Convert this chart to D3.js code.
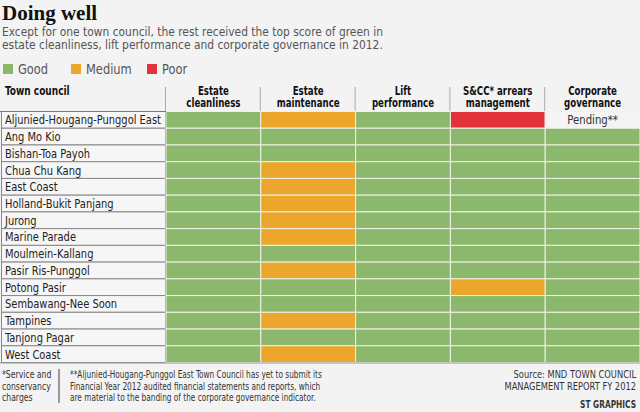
<html>
<head>
	<title>Doing well</title>
	<meta charset="utf-8">
	<script src="https://cdn.jsdelivr.net/npm/d3@7"></script>
	<style>
		body { margin: 0; background: #f3f3f3; }
		text { font-family: "Liberation Sans Narrow", "DejaVu Sans Condensed", Roboto, sans-serif; }
	</style>
</head>
<body>
	<script type="text/javascript">
		var width = 640
		var height = 412

		// data
		var councils = ["Aljunied-Hougang-Punggol East", "Ang Mo Kio", "Bishan-Toa Payoh", "Chua Chu Kang",
			"East Coast", "Holland-Bukit Panjang", "Jurong", "Marine Parade", "Moulmein-Kallang",
			"Pasir Ris-Punggol", "Potong Pasir", "Sembawang-Nee Soon", "Tampines", "Tanjong Pagar", "West Coast"]
		var indicators = ["Estate cleanliness", "Estate maintenance", "Lift performance", "S&CC* arrears management", "Corporate governance"]
		var headerLines = [["Estate", "cleanliness"], ["Estate", "maintenance"], ["Lift", "performance"], ["S&CC* arrears", "management"], ["Corporate", "governance"]]
		// G = good, M = medium, P = poor, N = pending
		var estateCleanliness  = ["G","G","G","G","G","G","G","G","G","G","G","G","G","G","G"]
		var estateMaintenance  = ["M","G","G","M","M","M","M","M","G","M","G","G","M","G","M"]
		var liftPerformance    = ["G","G","G","G","G","G","G","G","G","G","G","G","G","G","G"]
		var arrearsManagement  = ["P","G","G","G","G","G","G","G","G","G","M","G","G","G","G"]
		var corporateGovernance= ["N","G","G","G","G","G","G","G","G","G","G","G","G","G","G"]
		var ratings = [estateCleanliness, estateMaintenance, liftPerformance, arrearsManagement, corporateGovernance]
		var legendKeys = ["G", "M", "P"]
		var legendLabels = ["Good", "Medium", "Poor"]

		var svg = d3.select("body").append("svg")
		  .attr("width", width)
		  .attr("height", height)

		var color = d3.scaleOrdinal().domain(["G", "M", "P", "N"]).range(["#8cb86e", "#eca62b", "#e2333b", "#f4f4f4"])

		// the original uses a condensed face, so squeeze text horizontally
		function squeeze(sel, k) {
			sel.each(function() {
				var w = this.getComputedTextLength()
				d3.select(this).attr("textLength", w * k).attr("lengthAdjust", "spacingAndGlyphs")
			})
		}

		// title
		svg.append("text").attr("x", 2).attr("y", 20)
			.style("font-family", "'Liberation Serif', serif").style("font-weight", "bold")
			.style("font-size", "21px").attr("fill", "#111").text("Doing well")
		var sub = ["Except for one town council, the rest received the top score of green in",
			"estate cleanliness, lift performance and corporate governance in 2012."]
		svg.selectAll(".sub").data(sub).enter().append("text")
			.attr("x", 2).attr("y", (d, i) => 35.5 + i * 13.5)
			.style("font-size", "13px").attr("fill", "#555").text(d => d)
			.call(squeeze, 0.914)

		// legend
		var lx = d3.scaleOrdinal().domain(legendKeys).range([3, 71, 147])
		var lg = svg.selectAll(".leg").data(legendKeys).enter().append("g")
			.attr("transform", d => "translate(" + lx(d) + ",64)")
		lg.append("rect").attr("width", 10).attr("height", 10).attr("fill", d => color(d))
		lg.append("text").attr("x", 15).attr("y", 10).style("font-size", "13.5px").attr("fill", "#555")
			.text((d, i) => legendLabels[i]).call(squeeze, 0.94)

		// grid scales
		var y = d3.scaleBand().domain(councils).range([111.5, 362.5])
		var x = d3.scaleBand().domain(indicators).range([166, 640])

		// header
		svg.append("text").attr("x", 5).attr("y", 94.5).style("font-weight", "bold")
			.style("font-size", "12.5px").attr("fill", "#111").text("Town council").call(squeeze, 0.8)
		svg.selectAll(".hsep").data(indicators).enter().append("line")
			.attr("x1", d => x(d) - 0.5).attr("x2", d => x(d) - 0.5)
			.attr("y1", 87).attr("y2", 111).attr("stroke", "#aaa")
		var hdr = svg.selectAll(".hdr").data(indicators).enter().append("text")
			.attr("x", d => x(d) + x.bandwidth() / 2).attr("text-anchor", "middle")
			.style("font-weight", "bold").style("font-size", "12px").attr("fill", "#111")
		hdr.selectAll("tspan").data((d, i) => headerLines[i]).enter().append("tspan")
			.attr("x", function() { return this.parentNode.getAttribute("x") })
			.attr("y", (d, i) => 94.5 + i * 12.5).text(d => d)
			.call(squeeze, 0.8)

		// town names
		var rows = svg.selectAll(".row").data(councils).enter().append("g")
			.attr("transform", d => "translate(0," + y(d) + ")")
		rows.append("rect").attr("x", 1.5).attr("width", 164).attr("height", y.bandwidth())
			.attr("fill", "#f6f6f6").attr("stroke", "#888")
		rows.append("text").attr("x", 5).attr("y", y.bandwidth() / 2 + 4.5)
			.style("font-size", "12.5px").attr("fill", "#222").text(d => d)
			.call(squeeze, 0.88)

		// cells
		var cells = []
		indicators.forEach(function(ind, j) {
			councils.forEach(function(c, i) { cells.push({ind: ind, council: c, r: ratings[j][i]}) })
		})
		svg.selectAll(".cell").data(cells).enter().append("rect")
			.attr("x", d => x(d.ind)).attr("y", d => y(d.council))
			.attr("width", x.bandwidth()).attr("height", y.bandwidth())
			.attr("fill", d => color(d.r)).attr("stroke", "#eef2e6").attr("stroke-width", 1)
		svg.selectAll(".pend").data(cells.filter(d => d.r == "N")).enter().append("text")
			.attr("x", d => x(d.ind) + x.bandwidth() / 2).attr("y", d => y(d.council) + y.bandwidth() / 2 + 4.5)
			.attr("text-anchor", "middle").style("font-size", "12.5px").attr("fill", "#333").text("Pending**")
			.call(squeeze, 0.9)

		svg.append("line").attr("x1", 0).attr("x2", 166).attr("y1", 111.5).attr("y2", 111.5).attr("stroke", "#777")
		svg.append("line").attr("x1", 0).attr("x2", 640).attr("y1", 363).attr("y2", 363).attr("stroke", "#999")

		// footnotes
		var note1 = ["*Service and", "conservancy", "charges"]
		var note2 = ["**Aljunied-Hougang-Punggol East Town Council has yet to submit its",
			"Financial Year 2012 audited financial statements and reports, which",
			"are material to the banding of the corporate governance indicator."]
		var source = ["Source: MND TOWN COUNCIL", "MANAGEMENT REPORT FY 2012"]
		svg.selectAll(".n1").data(note1).enter().append("text").attr("x", 2).attr("y", (d, i) => 378 + i * 11.5)
			.style("font-size", "11px").attr("fill", "#333").text(d => d).call(squeeze, 0.78)
		svg.append("rect").attr("x", 58).attr("y", 369).attr("width", 2).attr("height", 34).attr("fill", "#999")
		svg.selectAll(".n2").data(note2).enter().append("text").attr("x", 70).attr("y", (d, i) => 378 + i * 11.5)
			.style("font-size", "11px").attr("fill", "#333").text(d => d).call(squeeze, 0.745)
		// right-aligned credits: squeeze with a transform so the end anchor stays put
		svg.selectAll(".src").data(source).enter().append("g")
			.attr("transform", (d, i) => "translate(636," + (378 + i * 11.5) + ") scale(0.84,1)")
			.append("text").attr("text-anchor", "end").style("font-size", "11px").attr("fill", "#333").text(d => d)
		svg.append("g").attr("transform", "translate(636,407.5) scale(0.75,1)")
			.append("text").attr("text-anchor", "end")
			.style("font-weight", "bold").style("font-size", "11px").attr("fill", "#333").text("ST GRAPHICS")
	</script>
</body>
</html>
